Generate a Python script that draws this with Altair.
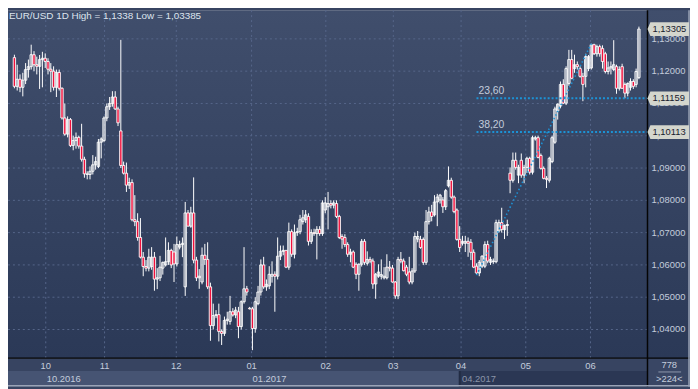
import altair as alt
import pandas as pd

# ---------------- data ----------------
title_text = "EUR/USD 1D High = 1,1338 Low = 1,03385"

opens = [
 1.1242,1.1153,1.1175,1.1150,1.1172,1.1205,1.1214,1.1251,1.1220,1.1215,
 1.1236,1.1240,1.1230,1.1206,1.1200,1.1150,1.1196,1.1147,1.1055,1.1005,
 1.1050,1.0970,1.0985,1.0995,1.0968,1.0927,1.0882,1.0880,1.0890,1.0910,
 1.0905,1.0980,1.0985,1.1055,1.1090,1.1100,1.1120,1.1083,1.1015,1.0908,
 1.0884,1.0847,1.0855,1.0740,1.0734,1.0685,1.0624,1.0595,1.0590,1.0595,
 1.0624,1.0556,1.0560,1.0590,1.0600,1.0610,1.0645,1.0640,1.0603,1.0655,
 1.0663,1.0532,1.0761,1.0720,1.0761,1.0615,1.0560,1.0547,1.0630,1.0617,
 1.0532,1.0412,1.0443,1.0446,1.0394,1.0388,1.0428,1.0425,1.0455,1.0445,
 1.0455,1.0409,1.0486,1.0526,1.0466,1.0464,
 1.0403,1.0480,1.0516,1.0600,1.0532,1.0535,1.0565,1.0571,1.0565,1.0627,
 1.0642,1.0645,1.0593,1.0703,1.0633,1.0700,1.0703,1.0734,1.0740,1.0750,
 1.0673,1.0700,1.0697,1.0710,1.0697,1.0770,1.0780,1.0790,1.0785,1.0790,
 1.0750,1.0688,1.0685,1.0663,1.0633,1.0640,1.0602,1.0571,1.0602,1.0673,
 1.0605,1.0617,1.0612,1.0541,1.0565,1.0565,1.0560,1.0560,1.0593,1.0590,
 1.0547,1.0504,1.0617,1.0612,1.0593,1.0578,1.0547,1.0581,1.0680,1.0679,
 1.0679,1.0608,1.0734,1.0764,1.0755,1.0795,1.0801,1.0801,1.0780,1.0845,
 1.0862,1.0810,1.0770,1.0679,1.0667,1.0667,1.0673,1.0670,1.0639,1.0596,
 1.0575,1.0596,1.0596,1.0663,1.0608,1.0610,1.0610,1.0705,1.0731,1.0709,
 1.0722,1.0884,1.0862,1.0924,1.0878,1.0924,1.0878,1.0902,1.0930,1.0887,
 1.0990,1.0994,1.0939,1.0899,1.0868,1.0862,1.0920,1.0980,1.1077,1.1092,
 1.1159,1.1101,1.1162,1.1236,1.1208,1.1220,1.1208,1.1184,1.1184,1.1208,
 1.1210,1.1282,1.1254,1.1276,1.1270,1.1254,1.1199,1.1210,1.1205,1.1214,
 1.1147,1.1214,1.1159,1.1132,1.1150,1.1168,1.1159,1.1180]

highs = [
 1.1251,1.1220,1.1190,1.1195,1.1225,1.1236,1.1282,1.1262,1.1245,1.1250,
 1.1260,1.1255,1.1240,1.1225,1.1215,1.1205,1.1205,1.1150,1.1100,1.1060,
 1.1055,1.1000,1.1010,1.1000,1.1037,1.0935,1.0890,1.0905,1.0940,1.0935,
 1.0990,1.0995,1.1060,1.1100,1.1120,1.1138,1.1138,1.1090,1.1297,1.0920,
 1.0917,1.0870,1.0865,1.0816,1.0760,1.0745,1.0640,1.0615,1.0650,1.0655,
 1.0640,1.0590,1.0628,1.0610,1.0685,1.0670,1.0650,1.0665,1.0688,1.0675,
 1.0685,1.0795,1.0770,1.0780,1.0871,1.0625,1.0587,1.0654,1.0665,1.0670,
 1.0545,1.0480,1.0460,1.0480,1.0400,1.0440,1.0455,1.0504,1.0466,1.0470,
 1.0470,1.0490,1.0655,1.0535,1.0470,1.0470,
 1.0500,1.0535,1.0617,1.0625,1.0555,1.0596,1.0611,1.0580,1.0685,1.0660,
 1.0660,1.0640,1.0731,1.0710,1.0725,1.0715,1.0755,1.0770,1.0770,1.0760,
 1.0710,1.0712,1.0720,1.0720,1.0800,1.0810,1.0826,1.0800,1.0800,1.0800,
 1.0755,1.0695,1.0695,1.0670,1.0650,1.0645,1.0608,1.0605,1.0680,1.0680,
 1.0642,1.0625,1.0620,1.0575,1.0602,1.0617,1.0593,1.0633,1.0612,1.0600,
 1.0550,1.0625,1.0640,1.0620,1.0600,1.0625,1.0590,1.0700,1.0705,1.0690,
 1.0685,1.0770,1.0780,1.0786,1.0816,1.0820,1.0820,1.0810,1.0835,1.0905,
 1.0870,1.0815,1.0775,1.0720,1.0690,1.0690,1.0685,1.0680,1.0648,1.0605,
 1.0615,1.0630,1.0673,1.0675,1.0625,1.0620,1.0740,1.0740,1.0777,1.0725,
 1.0740,1.0902,1.0948,1.0948,1.0910,1.0945,1.0910,1.0935,1.0935,1.1000,
 1.1000,1.1000,1.0945,1.0905,1.0875,1.0935,1.1000,1.1090,1.1100,1.1168,
 1.1175,1.1215,1.1266,1.1266,1.1251,1.1230,1.1215,1.1195,1.1254,1.1250,
 1.1285,1.1285,1.1282,1.1282,1.1280,1.1260,1.1230,1.1230,1.1296,1.1220,
 1.1215,1.1223,1.1165,1.1165,1.1178,1.1175,1.1208,1.1338]

lows = [
 1.1147,1.1140,1.1135,1.1122,1.1160,1.1180,1.1205,1.1200,1.1190,1.1145,
 1.1150,1.1210,1.1190,1.1135,1.1140,1.1120,1.1140,1.1050,1.1000,1.0995,
 1.0965,1.0955,1.0960,1.0960,1.0920,1.0870,1.0865,1.0865,1.0880,1.0895,
 1.0900,1.0930,1.0980,1.1045,1.1080,1.1090,1.1080,1.1030,1.0900,1.0880,
 1.0826,1.0835,1.0735,1.0720,1.0675,1.0620,1.0565,1.0580,1.0580,1.0585,
 1.0520,1.0525,1.0550,1.0570,1.0595,1.0600,1.0590,1.0547,1.0595,1.0648,
 1.0624,1.0504,1.0720,1.0715,1.0605,1.0550,1.0526,1.0540,1.0600,1.0525,
 1.0365,1.0400,1.0435,1.0363,1.0352,1.0380,1.0415,1.0415,1.0440,1.0435,
 1.0373,1.0400,1.0480,1.0505,1.0462,1.0336,
 1.0390,1.0475,1.0505,1.0526,1.0520,1.0525,1.0545,1.0455,1.0555,1.0615,
 1.0630,1.0590,1.0585,1.0625,1.0620,1.0690,1.0695,1.0725,1.0730,1.0660,
 1.0665,1.0690,1.0617,1.0690,1.0690,1.0760,1.0710,1.0775,1.0775,1.0745,
 1.0680,1.0650,1.0655,1.0625,1.0608,1.0590,1.0556,1.0520,1.0595,1.0600,
 1.0598,1.0605,1.0526,1.0495,1.0560,1.0555,1.0555,1.0555,1.0580,1.0545,
 1.0495,1.0494,1.0605,1.0580,1.0565,1.0540,1.0540,1.0575,1.0670,1.0650,
 1.0600,1.0600,1.0725,1.0735,1.0750,1.0720,1.0790,1.0761,1.0770,1.0840,
 1.0805,1.0760,1.0675,1.0640,1.0660,1.0640,1.0625,1.0615,1.0590,1.0569,
 1.0565,1.0590,1.0590,1.0605,1.0600,1.0603,1.0605,1.0700,1.0700,1.0680,
 1.0690,1.0822,1.0855,1.0895,1.0853,1.0870,1.0853,1.0885,1.0880,1.0880,
 1.0985,1.0930,1.0895,1.0865,1.0838,1.0855,1.0915,1.0975,1.1050,1.1085,
 1.1098,1.1095,1.1155,1.1175,1.1195,1.1205,1.1180,1.1107,1.1150,1.1200,
 1.1205,1.1250,1.1245,1.1245,1.1208,1.1193,1.1190,1.1190,1.1200,1.1130,
 1.1140,1.1145,1.1116,1.1122,1.1140,1.1145,1.1150,1.1175]

closes = [
 1.1153,1.1175,1.1150,1.1172,1.1205,1.1214,1.1251,1.1220,1.1215,1.1236,
 1.1240,1.1230,1.1206,1.1200,1.1150,1.1196,1.1147,1.1055,1.1005,1.1050,
 1.0970,1.0985,1.0995,1.0968,1.0927,1.0882,1.0880,1.0890,1.0910,1.0920,
 1.0980,1.0990,1.1055,1.1090,1.1100,1.1120,1.1083,1.1040,1.0908,1.0884,
 1.0847,1.0855,1.0740,1.0734,1.0685,1.0624,1.0595,1.0590,1.0624,1.0624,
 1.0556,1.0560,1.0593,1.0608,1.0610,1.0645,1.0600,1.0603,1.0663,1.0663,
 1.0667,1.0761,1.0720,1.0761,1.0615,1.0560,1.0565,1.0630,1.0617,1.0532,
 1.0412,1.0443,1.0446,1.0394,1.0388,1.0428,1.0432,1.0455,1.0445,1.0460,
 1.0409,1.0486,1.0526,1.0516,1.0464,1.0403,
 1.0486,1.0516,1.0600,1.0532,1.0540,1.0571,1.0571,1.0565,1.0627,1.0642,
 1.0645,1.0593,1.0703,1.0633,1.0700,1.0703,1.0740,1.0746,1.0755,1.0673,
 1.0700,1.0697,1.0710,1.0697,1.0792,1.0792,1.0790,1.0785,1.0792,1.0750,
 1.0685,1.0680,1.0663,1.0633,1.0640,1.0593,1.0571,1.0602,1.0673,1.0608,
 1.0617,1.0612,1.0541,1.0571,1.0578,1.0570,1.0565,1.0593,1.0590,1.0547,
 1.0504,1.0617,1.0612,1.0582,1.0571,1.0547,1.0581,1.0688,1.0688,1.0654,
 1.0608,1.0734,1.0764,1.0750,1.0795,1.0810,1.0816,1.0780,1.0830,1.0862,
 1.0810,1.0765,1.0679,1.0654,1.0673,1.0673,1.0667,1.0639,1.0593,1.0575,
 1.0608,1.0627,1.0663,1.0612,1.0617,1.0612,1.0731,1.0731,1.0710,1.0722,
 1.0725,1.0862,1.0924,1.0902,1.0902,1.0878,1.0902,1.0930,1.0887,1.0994,
 1.0994,1.0933,1.0899,1.0868,1.0865,1.0930,1.0994,1.1083,1.1098,1.1159,
 1.1101,1.1208,1.1236,1.1178,1.1220,1.1214,1.1184,1.1159,1.1245,1.1245,
 1.1282,1.1254,1.1276,1.1254,1.1230,1.1199,1.1210,1.1214,1.1220,1.1147,
 1.1205,1.1147,1.1132,1.1162,1.1168,1.1153,1.1199,1.13305]

price_ticks = [1.04, 1.05, 1.06, 1.07, 1.08, 1.09, 1.10, 1.11, 1.12, 1.13]
month_labels = ["10", "11", "12", "01", "02", "03", "04", "05", "06"]
month_pos = [11.2, 32.2, 57.8, 84.7, 111.2, 135.3, 159.5, 182.6, 205.7]
year_labels = ["10.2016", "01.2017", "04.2017"]
year_pos = [11.2, 84.7, 159.5]
year_dim = [False, False, True]

trend_idx = [165, 206]
trend_val = [1.05685, 1.12850]
fib_levels = [1.11159, 1.10113]
fib_labels = ["23,60", "38,20"]
fib_start = [165, 165]
tag_values = [1.13305, 1.11159, 1.10113]
tag_labels = ["1,13305", "1,11159", "1,10113"]
bars_total = "778"
bars_visible = ">224<"

# ---------------- chart ----------------
candles = pd.DataFrame({"i": list(range(len(opens))), "open": opens, "high": highs,
                        "low": lows, "close": closes})

W, H = 647, 352
TOTW, TOTH = 690, 381
FONT = "Liberation Sans"
LBL = "#c3ccdc"
BLUE = "#1c93d6"

xs = alt.Scale(domain=[-0.52, 224.3], nice=False, zero=False)
ys = alt.Scale(domain=[1.03113, 1.13888], nice=False, zero=False)

one = pd.DataFrame({"k": [0]})
grad = alt.Gradient(gradient="linear",
                    stops=[alt.GradientStop(color="#404e6c", offset=0),
                           alt.GradientStop(color="#2b3957", offset=1)],
                    x1=0, x2=0, y1=0, y2=1)


def box(x1, x2, y1, y2, color):
    return alt.Chart(one).mark_rect(color=color).encode(
        x=alt.value(x1), x2=alt.value(x2), y=alt.value(y1), y2=alt.value(y2))


bg = box(0, TOTW, 0, H, grad)
strip_top = box(0, TOTW, H, 365, "#374461")
band_left = box(0, 457, 365, TOTH, "#465473")
band_right = box(457, W, 365, TOTH, "#2b3754")
corner = box(W, TOTW, H, TOTH, "#394664")

hgrid = alt.Chart(pd.DataFrame({"v": price_ticks})).mark_rule(
    color="#56668a", strokeDash=[2, 3], strokeWidth=1).encode(
    y=alt.Y("v:Q", scale=ys, axis=None), x=alt.value(0), x2=alt.value(W))

months = pd.DataFrame({"m": month_pos, "lab": month_labels})
vgrid = alt.Chart(months).mark_rule(
    color="#56668a", strokeDash=[2, 3], strokeWidth=1).encode(
    x=alt.X("m:Q", scale=xs, axis=None), y=alt.value(0), y2=alt.value(H))

wicks = alt.Chart(candles).mark_rule(color="white", strokeWidth=1).encode(
    x=alt.X("i:Q", scale=xs, axis=None),
    y=alt.Y("low:Q", scale=ys, axis=None), y2="high:Q")

bodies = alt.Chart(candles).mark_bar(size=2.4, stroke="white", strokeWidth=0.9).encode(
    x=alt.X("i:Q", scale=xs, axis=None),
    y=alt.Y("open:Q", scale=ys, axis=None), y2="close:Q",
    fill=alt.condition("datum.close < datum.open", alt.value("#f0103c"),
                       alt.value("transparent")))

trend = alt.Chart(pd.DataFrame({"i": trend_idx, "p": trend_val})).mark_line(
    color=BLUE, strokeDash=[1.5, 2.5], strokeWidth=1.6).encode(
    x=alt.X("i:Q", scale=xs, axis=None), y=alt.Y("p:Q", scale=ys, axis=None))

fibdf = pd.DataFrame({"lvl": fib_levels, "lab": fib_labels, "start": fib_start})
fib = alt.Chart(fibdf).mark_rule(color=BLUE, strokeDash=[2, 2], strokeWidth=2).encode(
    x=alt.X("start:Q", scale=xs, axis=None), x2=alt.value(W),
    y=alt.Y("lvl:Q", scale=ys, axis=None))
fibtxt = alt.Chart(fibdf).mark_text(font=FONT, fontSize=10.5, color=LBL, align="left",
                                    baseline="bottom", dx=2, dy=-2).encode(
    x=alt.X("start:Q", scale=xs, axis=None), y=alt.Y("lvl:Q", scale=ys, axis=None),
    text="lab:N")

vline = alt.Chart(one).mark_rule(color="#050505", strokeWidth=1.5).encode(
    x=alt.value(W), y=alt.value(0), y2=alt.value(TOTH))
hline = alt.Chart(one).mark_rule(color="#050505", strokeWidth=1.5).encode(
    y=alt.value(H), x=alt.value(0), x2=alt.value(TOTW))
rborder = alt.Chart(one).mark_rule(color="#9aa3b6", strokeWidth=1.5).encode(
    x=alt.value(TOTW - 1), y=alt.value(0), y2=alt.value(TOTH))
bborder = alt.Chart(one).mark_rule(color="#9aa3b6", strokeWidth=1.5).encode(
    y=alt.value(TOTH - 1), x=alt.value(0), x2=alt.value(TOTW))
bandsep = alt.Chart(one).mark_rule(color="#222c44", strokeWidth=2).encode(
    x=alt.value(457), y=alt.value(365), y2=alt.value(TOTH))

ylab = alt.Chart(pd.DataFrame({"v": price_ticks})).transform_calculate(
    lab="replace(format(datum.v, '.5f'), '.', ',')").mark_text(
    font=FONT, fontSize=9.5, color=LBL, align="left", baseline="middle").encode(
    x=alt.value(651), y=alt.Y("v:Q", scale=ys, axis=None), text="lab:N")

tagdf = pd.DataFrame({"p": tag_values, "lab": tag_labels})
tag_shape = "M -1 0 L -0.86 -0.33 L 1 -0.33 L 1 0.33 L -0.86 0.33 Z"
tags = alt.Chart(tagdf).mark_point(shape=tag_shape, size=1764, filled=True,
                                   color="#d4d6cd", opacity=1, strokeWidth=0).encode(
    x=alt.value(668), y=alt.Y("p:Q", scale=ys, axis=None))
tagtxt = alt.Chart(tagdf).mark_text(font=FONT, fontSize=9.5, color="#18202e",
                                    align="left", baseline="middle").encode(
    x=alt.value(652), y=alt.Y("p:Q", scale=ys, axis=None), text="lab:N")

mtxt = alt.Chart(months).mark_text(font=FONT, fontSize=9.5, color=LBL,
                                   align="center", baseline="middle").encode(
    x=alt.X("m:Q", scale=xs, axis=None), y=alt.value(360), text="lab:N")

years = pd.DataFrame({"m": year_pos, "lab": year_labels, "dim": year_dim})
ytxt = alt.Chart(years).mark_text(font=FONT, fontSize=9.5, align="left",
                                  baseline="middle", dx=1).encode(
    x=alt.X("m:Q", scale=xs, axis=None), y=alt.value(373), text="lab:N",
    color=alt.condition("datum.dim", alt.value("#8a94a8"), alt.value(LBL)))

corner_df = pd.DataFrame({"lab": [bars_total, bars_visible], "row": [0, 1]})
ctxt = alt.Chart(corner_df).transform_calculate(yy="359 + datum.row * 14").mark_text(
    font=FONT, fontSize=9.5, color=LBL, align="center", baseline="middle").encode(
    x=alt.value(669), y=alt.Y("yy:Q", scale=None), text="lab:N")
cdiv = alt.Chart(one).mark_rule(color="#8d97ab", strokeWidth=1).encode(
    y=alt.value(366), x=alt.value(658), x2=alt.value(681))

title = alt.Chart(pd.DataFrame({"t": [title_text]})).mark_text(
    font=FONT, fontSize=10, color="#dde4ee", align="left", baseline="top").encode(
    x=alt.value(1), y=alt.value(1), text="t:N")

chart = alt.layer(
    bg, strip_top, band_left, band_right, corner, bandsep,
    hgrid, vgrid, wicks, bodies, trend, fib, fibtxt,
    vline, hline, rborder, bborder,
    ylab, tags, tagtxt, mtxt, ytxt, ctxt, cdiv, title
).properties(
    width=W, height=H,
    padding={"left": 0, "top": 0, "right": TOTW - W, "bottom": TOTH - H},
    autosize=alt.AutoSizeParams(type="none"),
).configure_view(strokeWidth=0).configure(background="#374461")

chart.save("out.html", embed_options={"renderer": "svg", "actions": False})
